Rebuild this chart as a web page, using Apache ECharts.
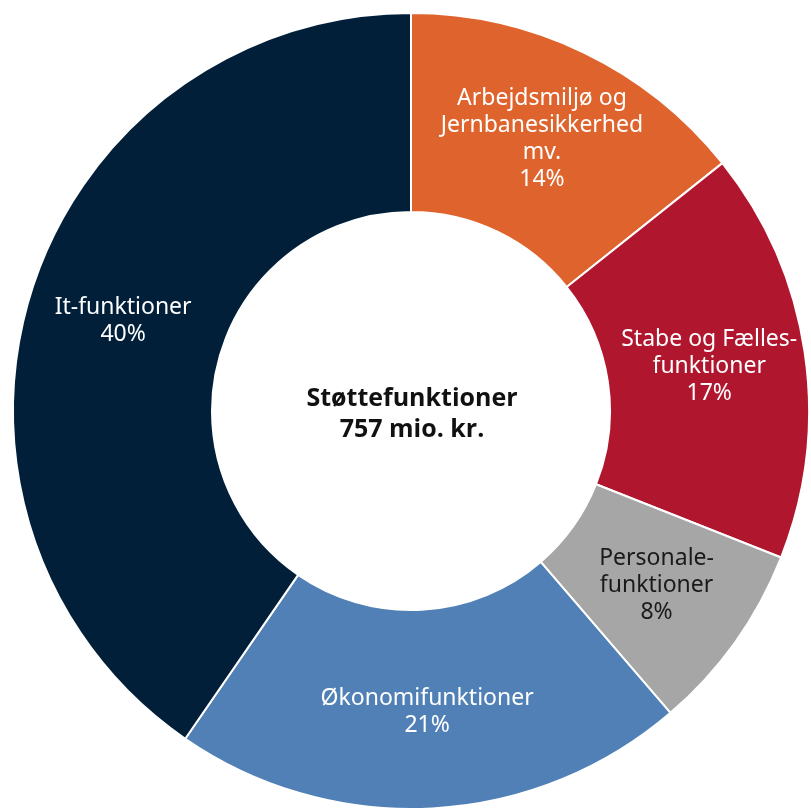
<!DOCTYPE html>
<html>
<head>
<meta charset="utf-8">
<script src="https://cdn.jsdelivr.net/npm/echarts@6/dist/echarts.min.js"></script>
<style>
html,body{margin:0;padding:0;background:#fff;}
#chart{width:811px;height:811px;}
</style>
</head>
<body>
<div id="chart"></div>
<script>
const categories = [
  'Arbejdsmiljø og\nJernbanesikkerhed\nmv.',
  'Stabe og Fælles-\nfunktioner',
  'Personale-\nfunktioner',
  'Økonomifunktioner',
  'It-funktioner'
];
const shares = [14.3, 16.7, 7.7, 20.9, 40.4];
const colors = ['#DF632C', '#B0172F', '#A6A6A6', '#5080B6', '#021F3A'];
const labelColors = ['#ffffff', '#ffffff', '#1a1a1a', '#ffffff', '#ffffff'];
const centerTitle = 'Støttefunktioner';
const centerSubtitle = '757 mio. kr.';

const chart = echarts.init(document.getElementById('chart'), null, {renderer: 'canvas'});
const data = categories.map((c, i) => ({
  name: c,
  value: shares[i],
  itemStyle: {color: colors[i]},
  label: {color: labelColors[i]}
}));

chart.setOption({
  animation: false,
  backgroundColor: '#ffffff',
  graphic: [{
    type: 'text',
    x: 412,
    y: 414,
    style: {
      text: centerTitle + '\n' + centerSubtitle,
      font: 'bold 25px "Open Sans", sans-serif',
      fill: '#111111',
      align: 'center',
      verticalAlign: 'middle',
      lineHeight: 31
    }
  }],
  series: [{
    type: 'pie',
    center: [411, 411],
    radius: [199, 398],
    startAngle: 90,
    clockwise: true,
    avoidLabelOverlap: false,
    itemStyle: {borderColor: '#ffffff', borderWidth: 2},
    label: {
      show: true,
      position: 'inside',
      fontFamily: '"Noto Sans", sans-serif',
      fontSize: 23,
      lineHeight: 27,
      align: 'center',
      formatter: p => p.name + '\n' + Math.round(p.percent) + '%'
    },
    labelLine: {show: false},
    data: data
  }]
});
</script>
</body>
</html>
